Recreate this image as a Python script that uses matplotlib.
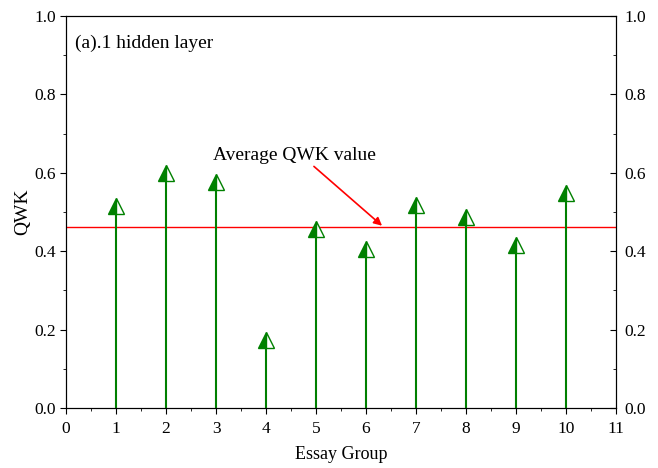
import matplotlib
matplotlib.use("Agg")
import matplotlib.pyplot as plt
from matplotlib.ticker import MultipleLocator, FormatStrFormatter

plt.rcParams["font.family"] = ["Liberation Serif", "DejaVu Serif"]

groups = [1, 2, 3, 4, 5, 6, 7, 8, 9, 10]
qwk = [0.515, 0.600, 0.577, 0.173, 0.457, 0.405, 0.518, 0.487, 0.416, 0.548]
avg_qwk = 0.462

green = "#008000"

fig = plt.figure(figsize=(6.58, 4.68), dpi=100)
ax = fig.add_axes([0.1003, 0.128, 0.836, 0.838])

ax.vlines(groups, 0, qwk, color=green, lw=1.5, zorder=2)
ax.plot(groups, qwk, ls="none", marker="^", ms=11.5, fillstyle="left",
        color=green, markerfacecoloralt="white", markeredgecolor=green,
        mew=1.0, zorder=3)
ax.axhline(avg_qwk, color="red", lw=1.0, zorder=1)

ax.annotate("Average QWK value", xy=(6.32, avg_qwk + 0.003), xytext=(2.94, 0.645),
            fontsize=14, va="center", ha="left",
            arrowprops=dict(arrowstyle="-|>", color="red", lw=1.2,
                            shrinkA=0, shrinkB=0, mutation_scale=12,
                            relpos=(0.6, 0.0)))
ax.text(0.18, 0.93, "(a).1 hidden layer", fontsize=14, va="center", ha="left")

ax.set_xlim(0, 11)
ax.set_ylim(0, 1.0)
ax.xaxis.set_major_locator(MultipleLocator(1))
ax.xaxis.set_minor_locator(MultipleLocator(0.5))
ax.yaxis.set_major_locator(MultipleLocator(0.2))
ax.yaxis.set_minor_locator(MultipleLocator(0.1))
ax.yaxis.set_major_formatter(FormatStrFormatter("%.1f"))
ax.tick_params(axis="both", which="major", direction="out", length=4, labelsize=12.5)
ax.tick_params(axis="both", which="minor", direction="out", length=2.5)
ax.tick_params(axis="x", which="major", pad=5)
ax.tick_params(top=False, which="both")

ax2 = ax.twinx()
ax2.set_ylim(0, 1.0)
ax2.yaxis.set_major_locator(MultipleLocator(0.2))
ax2.yaxis.set_minor_locator(MultipleLocator(0.1))
ax2.yaxis.set_major_formatter(FormatStrFormatter("%.1f"))
ax2.tick_params(axis="y", which="major", direction="in", length=4, labelsize=12.5, pad=6)
ax2.tick_params(axis="y", which="minor", direction="in", length=2.5)

ax.set_xlabel("Essay Group", fontsize=13, labelpad=7)
ax.set_ylabel("QWK", fontsize=14, labelpad=2)

fig.savefig("out.png", dpi=100)
